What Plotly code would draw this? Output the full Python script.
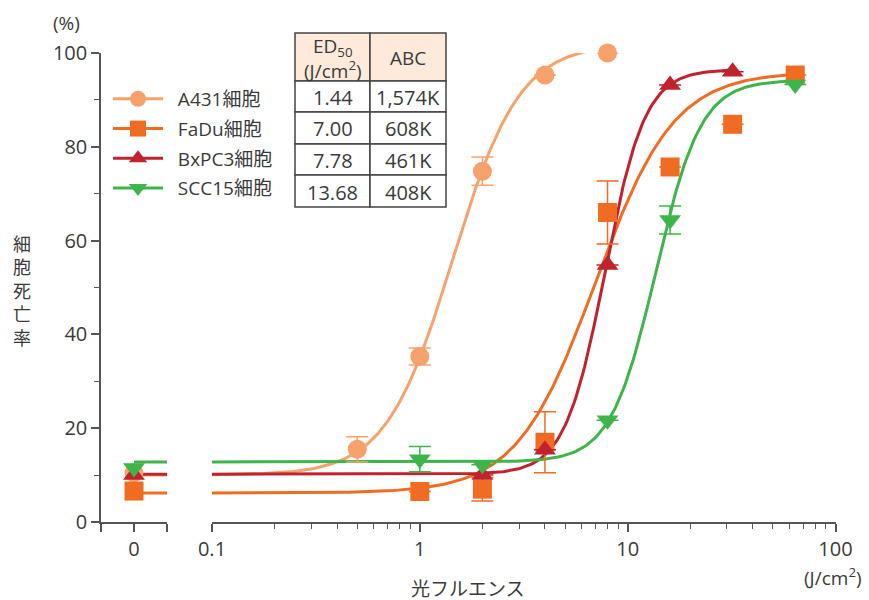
import numpy as np
import plotly.graph_objects as go

# ---- measured data -------------------------------------------------------
names = ["A431細胞", "FaDu細胞", "BxPC3細胞", "SCC15細胞"]
colors = ["#F7A26C", "#F06C22", "#C1232E", "#3DB54A"]
symbols = ["circle", "square", "triangle-up", "triangle-down"]

# death rate (%) at dose 0 (untreated control)
ctrl_vals = [10.5, 6.6, 10.0, 11.5]

a431_x = [0.5, 1, 2, 4, 8]
a431_y = [15.5, 35.3, 74.8, 95.3, 100.0]
a431_err = [2.7, 1.8, 3.0, 0, 0]

fadu_x = [1, 2, 4, 8, 16, 32, 64]
fadu_y = [6.5, 7.0, 17.0, 66.0, 75.7, 84.8, 95.3]
fadu_err = [0, 2.5, 6.5, 6.7, 0, 0, 0]

bxpc3_x = [2, 4, 8, 16, 32]
bxpc3_y = [10.0, 15.4, 54.8, 93.2, 96.0]
bxpc3_err = [0, 0, 0, 0, 0]

scc15_x = [1, 2, 8, 16, 64]
scc15_y = [13.4, 12.2, 21.7, 64.4, 93.3]
scc15_err = [2.7, 0, 0, 3.0, 0]

# sigmoid fit parameters (bottom, top, ED50, Hill slope) and fit range end
ed50 = [1.44, 7.00, 7.78, 13.68]
abc_k = [1574, 608, 461, 408]
fit_bottom = [10.0, 6.2, 10.2, 12.8]
fit_top = [102.0, 96.0, 96.5, 94.2]
fit_hill = [2.7, 2.3, 4.5, 4.0]
fit_end = [8, 64, 32, 64]

series_x = [a431_x, fadu_x, bxpc3_x, scc15_x]
series_y = [a431_y, fadu_y, bxpc3_y, scc15_y]
series_err = [a431_err, fadu_err, bxpc3_err, scc15_err]

# ---- layout geometry (paper fractions, figure 869x600, no margins) -------
W, H = 869, 600
FONT = "Open Sans, Noto Sans CJK JP, sans-serif"
CJK = "Noto Sans CJK JP, sans-serif"
AX = "#555555"
TXT = "#3a3a3a"


def px_x(v):
    return v / W


def px_y(v):
    return 1 - v / H


def logistic(x, b, t, e, h):
    return b + (t - b) / (1 + (e / x) ** h)


fig = go.Figure()

for i in range(4):
    c = colors[i]
    # fitted curve on the log axis
    xs = np.logspace(-1, np.log10(fit_end[i]), 300)
    ys = logistic(xs, fit_bottom[i], fit_top[i], ed50[i], fit_hill[i])
    fig.add_trace(go.Scatter(
        x=xs, y=ys, mode="lines", line=dict(color=c, width=3),
        xaxis="x2", yaxis="y", showlegend=False, hoverinfo="skip",
        cliponaxis=False))
    # baseline continued on the control segment
    fig.add_trace(go.Scatter(
        x=[0, 1], y=[fit_bottom[i], fit_bottom[i]], mode="lines",
        line=dict(color=c, width=3), xaxis="x", yaxis="y",
        showlegend=False, hoverinfo="skip", cliponaxis=False))

for i in range(4):
    c = colors[i]
    err = series_err[i]
    fig.add_trace(go.Scatter(
        x=series_x[i], y=series_y[i], mode="markers",
        marker=dict(color=c, size=19, symbol=symbols[i], line=dict(width=0)),
        error_y=dict(type="data", array=err, visible=True, color=c,
                     thickness=1.5, width=11),
        xaxis="x2", yaxis="y", showlegend=False, cliponaxis=False))
    # control point at dose 0, also carries the legend entry
    fig.add_trace(go.Scatter(
        x=[0], y=[ctrl_vals[i]], mode="lines+markers",
        name="\u00a0\u00a0" + names[i], legendgroup=names[i],
        marker=dict(color=c, size=19, symbol=symbols[i], line=dict(width=0)),
        line=dict(color=c, width=3),
        xaxis="x", yaxis="y", showlegend=True, cliponaxis=False))

# ---- ED50 / ABC table drawn with shapes and annotations -------------------
col_edges = [295, 370, 446]
row_edges = [33, 81, 112, 144, 175, 207]
header = ["ED<sub>50</sub><br>(J/cm<sup>2</sup>)", "ABC"]
columns = [[f"{v:.2f}" for v in ed50], [f"{v:,}K" for v in abc_k]]

for r in range(len(row_edges) - 1):
    for cidx in range(2):
        fig.add_shape(
            type="rect", xref="paper", yref="paper",
            x0=px_x(col_edges[cidx]), x1=px_x(col_edges[cidx + 1]),
            y0=px_y(row_edges[r + 1]), y1=px_y(row_edges[r]),
            fillcolor="#FDEADB" if r == 0 else "white",
            line=dict(color="#444444", width=1.5), layer="above")
        text = header[cidx] if r == 0 else columns[cidx][r - 1]
        fig.add_annotation(
            text=text, xref="paper", yref="paper",
            x=px_x((col_edges[cidx] + col_edges[cidx + 1]) / 2),
            y=px_y((row_edges[r] + row_edges[r + 1]) / 2 + 1),
            xanchor="center", yanchor="middle", showarrow=False,
            font=dict(family=FONT, size=19 if r == 0 else 20, color=TXT))

tick_font = dict(family=FONT, size=20, color=TXT)
minor_vals = [m * d for d in (0.1, 1, 10) for m in range(2, 10)]

fig.update_layout(
    width=W, height=H,
    margin=dict(l=0, r=0, t=0, b=0, autoexpand=False),
    paper_bgcolor="white", plot_bgcolor="white",
    font=dict(family=FONT, color=TXT),
    showlegend=True,
    legend=dict(x=px_x(108), y=px_y(80), xanchor="left", yanchor="top",
                font=dict(family=FONT, size=19, color=TXT),
                bgcolor="rgba(0,0,0,0)", itemsizing="trace",
                itemwidth=50, tracegroupgap=2),
    xaxis=dict(
        domain=[px_x(101), px_x(167)], range=[-1, 1], anchor="y",
        automargin=False,
        showline=True, linecolor=AX, linewidth=1.5, showgrid=False,
        zeroline=False, tickmode="array", tickvals=[-1, 0, 1],
        ticktext=["", "0", ""], ticks="outside", ticklen=8, tickwidth=1.5,
        tickcolor=AX, tickfont=tick_font, fixedrange=True),
    xaxis2=dict(
        type="log", domain=[px_x(212), px_x(835.5)], range=[-1, 2],
        anchor="y", automargin=False, showline=True, linecolor=AX,
        linewidth=1.5, showgrid=False, zeroline=False, tickmode="array",
        tickvals=[0.1, 1, 10, 100], ticktext=["0.1", "1", "10", "100"],
        ticks="outside", ticklen=8, tickwidth=1.5, tickcolor=AX,
        tickfont=tick_font,
        minor=dict(tickmode="array", tickvals=minor_vals, ticks="outside",
                   ticklen=5, tickwidth=1.2, tickcolor=AX, showgrid=False)),
    yaxis=dict(
        domain=[px_y(522), px_y(53)], range=[0, 100], anchor="x",
        automargin=False,
        showline=True, linecolor=AX, linewidth=1.5, showgrid=False,
        zeroline=False, tickmode="linear", tick0=0, dtick=20,
        ticks="outside", ticklen=8, tickwidth=1.5, tickcolor=AX,
        tickfont=tick_font,
        minor=dict(dtick=10, ticks="outside", ticklen=5, tickwidth=1.2,
                   tickcolor=AX, showgrid=False)),
)

# ---- axis titles and units ----------------------------------------------
ann = [
    dict(text="(%)", x=px_x(66), y=px_y(23), size=19, fam=FONT),
    dict(text="光フルエンス", x=px_x(468), y=px_y(587), size=19, fam=CJK),
    dict(text="(J/cm<sup>2</sup>)", x=px_x(833), y=px_y(577), size=19,
         fam=FONT),
    # vertical y-axis title, one character per line
    dict(text="<br>".join("細胞死亡率"), x=px_x(22), y=px_y(290), size=18,
         fam=CJK),
]

for a in ann:
    fig.add_annotation(text=a["text"], x=a["x"], y=a["y"], xref="paper",
                       yref="paper", xanchor="center", yanchor="middle",
                       showarrow=False,
                       font=dict(family=a["fam"], size=a["size"], color=TXT))

fig.write_html("out.html")
